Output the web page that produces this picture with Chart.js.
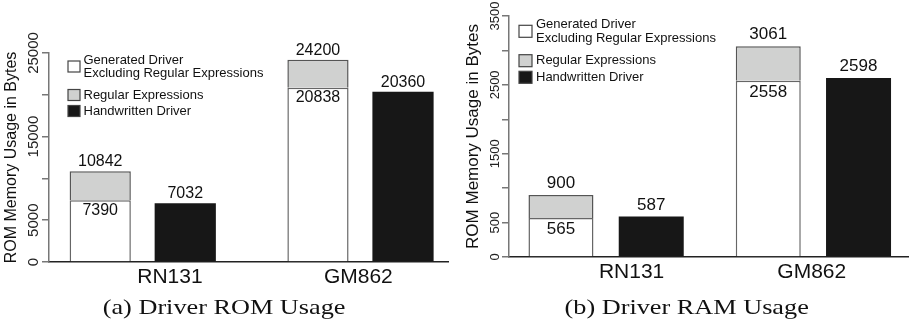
<!DOCTYPE html>
<html lang="en">
<head>
<meta charset="utf-8"/>
<title>Driver ROM / RAM Usage</title>
<script src="https://cdn.jsdelivr.net/npm/chart.js"></script>
<style>
  body { margin: 0; background: #fff; width: 909px; height: 325px; overflow: hidden; position: relative; }
  .box { position: absolute; top: 0; height: 325px; }
  #romBox { left: 0; width: 455px; }
  #ramBox { left: 455px; width: 454px; }
  .caption {
    position: absolute; top: 297px; width: 300px; text-align: center;
    font-family: 'Liberation Serif', serif; font-size: 21px; line-height: 21px; color: #111;
  }
  .caption span { display: inline-block; transform: scaleX(1.25); }
</style>
</head>
<body>
<div class="box" id="romBox"><canvas id="romChart"></canvas></div>
<div class="box" id="ramBox"><canvas id="ramChart"></canvas></div>
<div class="caption" style="left:74px"><span>(a) Driver ROM Usage</span></div>
<div class="caption" style="left:537px"><span>(b) Driver RAM Usage</span></div>
<script>
const categories = ['RN131', 'GM862'];
const seriesNames = ['Generated Driver\nExcluding Regular Expressions', 'Regular Expressions', 'Handwritten Driver'];

// ROM (bytes)
const romGenerated = [7390, 20838];
const romWithRegex = [10842, 24200];
const romHandwritten = [7032, 20360];
const romTickLabels = [0, 5000, 15000, 25000];

// RAM (bytes)
const ramGenerated = [565, 2558];
const ramWithRegex = [900, 3061];
const ramHandwritten = [587, 2598];
const ramTickLabels = [0, 500, 1500, 2500, 3500];

const FONT = "'Liberation Sans', Arial, sans-serif";

// numbers on the bars: totals above, generated part just under its top
const valueLabels = {
  id: 'valueLabels',
  afterDatasetsDraw(chart, args, opts) {
    const ctx = chart.ctx;
    ctx.save();
    ctx.font = opts.size + 'px ' + FONT;
    ctx.fillStyle = '#111';
    ctx.textAlign = 'center';
    ctx.textBaseline = 'alphabetic';
    chart.data.datasets.forEach((ds, di) => {
      chart.getDatasetMeta(di).data.forEach((bar, i) => {
        const txt = String(ds.labelValues[i]);
        if (ds.labelPos === 'inside') {
          ctx.fillText(txt, bar.x, bar.y + opts.inside + opts.size * 0.72);
        } else {
          ctx.fillText(txt, bar.x, bar.y - opts.above);
        }
      });
    });
    ctx.restore();
  }
};

// legend inside the plot, with a two-line first entry
const boxLegend = {
  id: 'boxLegend',
  afterDraw(chart, args, opts) {
    const ctx = chart.ctx;
    ctx.save();
    ctx.font = opts.size + 'px ' + FONT;
    ctx.textBaseline = 'middle';
    chart.data.datasets.forEach((ds, di) => {
      const lines = ds.label.split('\n');
      const y0 = opts.ys[di];
      const mid = y0 + (lines.length - 1) * opts.lineHeight / 2;
      ctx.fillStyle = ds.backgroundColor;
      ctx.fillRect(opts.x, mid - opts.boxH / 2, opts.boxW, opts.boxH);
      ctx.strokeStyle = '#444';
      ctx.lineWidth = 1.2;
      ctx.strokeRect(opts.x, mid - opts.boxH / 2, opts.boxW, opts.boxH);
      ctx.fillStyle = '#111';
      lines.forEach((ln, k) => ctx.fillText(ln, opts.textX, y0 + k * opts.lineHeight));
    });
    ctx.restore();
  }
};

function makeChart(id, c) {
  const pts = arr => arr.map((v, i) => ({ x: i, y: v }));
  const regex = c.withRegex.map((v, i) => v - c.generated[i]);
  new Chart(document.getElementById(id), {
    type: 'bar',
    data: {
      datasets: [
        { label: seriesNames[0], data: pts(c.generated), stack: 'gen', labelValues: c.generated, labelPos: 'inside',
          backgroundColor: '#ffffff', borderColor: '#666', borderWidth: 1.5 },
        { label: seriesNames[1], data: pts(regex), stack: 'gen', labelValues: c.withRegex, labelPos: 'above',
          backgroundColor: '#d0d1d0', borderColor: '#555', borderWidth: 1.5 },
        { label: seriesNames[2], data: pts(c.handwritten), stack: 'hand', labelValues: c.handwritten, labelPos: 'above',
          backgroundColor: '#171717', borderWidth: 0 }
      ]
    },
    options: {
      responsive: true,
      maintainAspectRatio: false,
      animation: false,
      categoryPercentage: c.cp,
      barPercentage: 0.72,
      layout: { padding: c.padding },
      plugins: {
        legend: { display: false },
        tooltip: { enabled: false },
        valueLabels: c.labels,
        boxLegend: c.legend
      },
      scales: {
        x: {
          type: 'linear',
          offset: false,
          bounds: 'data',
          min: c.xMin,
          max: c.xMax,
          afterBuildTicks: s => { s.ticks = categories.map((_, i) => ({ value: i })); },
          afterFit: s => { s.height = 0; },
          grid: { display: false, drawTicks: false },
          border: { display: true, color: '#222', width: 1.5 },
          ticks: { display: false }
        },
        // second bottom axis only for the names, which sit a little off the group centres
        names: {
          type: 'linear',
          position: 'bottom',
          offset: false,
          bounds: 'data',
          min: c.xMin,
          max: c.xMax,
          afterBuildTicks: s => { s.ticks = categories.map((_, i) => ({ value: i + c.labelShift[i] })); },
          afterFit: s => { s.height = c.xHeight; },
          grid: { display: false, drawTicks: false },
          border: { display: false },
          ticks: {
            autoSkip: false, maxRotation: 0, padding: 3, color: '#111',
            font: { family: FONT, size: 21 },
            callback: (v, i) => categories[i] ?? ''
          }
        },
        y: {
          stacked: true,
          min: 0,
          max: c.yMax,
          afterFit: s => { s.width = c.yWidth; },
          grid: { display: true, drawOnChartArea: false, drawTicks: true, tickLength: 7, color: '#777', lineWidth: 1.5 },
          border: { display: true, color: '#777', width: 1.5 },
          ticks: {
            stepSize: c.yStep, autoSkip: false, minRotation: 90, maxRotation: 90, crossAlign: 'center',
            padding: c.tickPad, color: '#222',
            font: { family: FONT, size: c.tickSize },
            callback: v => c.tickLabels.includes(v) ? String(v) : ''
          },
          title: {
            display: true, text: 'ROM Memory Usage in Bytes', color: '#111',
            font: { family: FONT, size: c.titleSize }, padding: { top: c.titlePad, bottom: 0 }
          }
        }
      }
    },
    plugins: [valueLabels, boxLegend]
  });
}

makeChart('romChart', {
  generated: romGenerated, withRegex: romWithRegex, handwritten: romHandwritten,
  tickLabels: romTickLabels, yMax: 25000, yStep: 5000,
  xMin: -0.4305, xMax: 1.4019, cp: 0.781, labelShift: [0.125, -0.01],
  padding: { top: 53, right: 7, left: 0, bottom: 0 }, yWidth: 49, xHeight: 63,
  tickSize: 15, tickPad: -13, titleSize: 16, titlePad: 2,
  labels: { size: 16, above: 5, inside: 3 },
  legend: { x: 68, boxW: 12, boxH: 11, textX: 83.5, ys: [60, 95, 111], lineHeight: 13, size: 13 }
});

makeChart('ramChart', {
  generated: ramGenerated, withRegex: ramWithRegex, handwritten: ramHandwritten,
  tickLabels: ramTickLabels, yMax: 3500, yStep: 500,
  xMin: -0.4684, xMax: 1.4612, cp: 0.871, labelShift: [0.123, -0.008],
  padding: { top: 16, right: 0, left: 0, bottom: 0 }, yWidth: 54, xHeight: 68,
  tickSize: 13, tickPad: -8, titleSize: 17, titlePad: 8,
  labels: { size: 17, above: 7, inside: 4 },
  legend: { x: 64, boxW: 13, boxH: 12, textX: 81, ys: [24.3, 60.7, 77.3], lineHeight: 14, size: 13 }
});
</script>
</body>
</html>
